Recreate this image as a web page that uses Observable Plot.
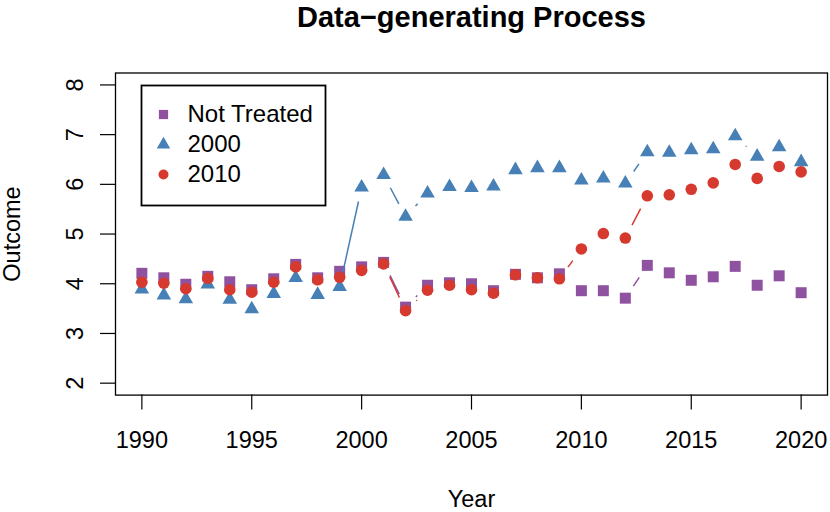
<!DOCTYPE html>
<html><head><meta charset="utf-8">
<script src="https://cdn.jsdelivr.net/npm/d3@7"></script>
<script src="https://cdn.jsdelivr.net/npm/@observablehq/plot@0.6"></script>
<style>body{margin:0;background:#fff}</style>
</head><body><div id="chart"></div>
<script>
const years = [1990,1991,1992,1993,1994,1995,1996,1997,1998,1999,2000,2001,2002,2003,2004,2005,2006,2007,2008,2009,2010,2011,2012,2013,2014,2015,2016,2017,2018,2019,2020];
const notTreated = [4.21,4.12,3.99,4.15,4.04,3.88,4.10,4.39,4.12,4.25,4.34,4.43,3.53,3.97,4.02,4.00,3.86,4.19,4.12,4.20,3.86,3.86,3.71,4.37,4.22,4.07,4.14,4.35,3.97,4.16,3.82];
const treated2000 = [3.89,3.77,3.69,3.99,3.68,3.49,3.80,4.12,3.78,3.94,5.94,6.19,5.35,5.82,5.95,5.93,5.96,6.29,6.33,6.33,6.08,6.12,6.02,6.65,6.64,6.69,6.71,6.97,6.56,6.75,6.45];
const treated2010 = [4.03,4.01,3.90,4.11,3.88,3.83,4.03,4.34,4.08,4.13,4.27,4.40,3.46,3.87,3.97,3.88,3.81,4.18,4.12,4.10,4.70,5.01,4.92,5.77,5.79,5.90,6.03,6.40,6.12,6.36,6.25];
const xTicks = [1990,1995,2000,2005,2010,2015,2020];
const yTicks = [2,3,4,5,6,7,8];
const legendLabels = ["Not Treated","2000","2010"];
const title = "Data\u2212generating Process";
const xLabel = "Year";
const yLabel = "Outcome";

const series = [
  {name: legendLabels[0], values: notTreated, symbol: "square", color: "#8F52A0", r: 6.2, lr: 5.2},
  {name: legendLabels[1], values: treated2000, symbol: "triangle", color: "#4680B6", r: 5.4, lr: 5.0},
  {name: legendLabels[2], values: treated2010, symbol: "circle", color: "#D6392E", r: 5.8, lr: 5.0}
];

const seriesMarks = [];
for (const s of series) {
  const pts = years.map((yr, i) => ({x: yr, y: s.values[i]}));
  const segs = pts.slice(1).map((p, i) => ({x1: pts[i].x, y1: pts[i].y, x2: p.x, y2: p.y}));
  seriesMarks.push(Plot.arrow(segs, {x1: "x1", y1: "y1", x2: "x2", y2: "y2", stroke: s.color, strokeWidth: 1.5,
    headLength: 0, insetStart: 14.5, insetEnd: 14.5, bend: 0, strokeLinecap: "butt"}));
  seriesMarks.push(Plot.dot(pts, {x: "x", y: "y", symbol: s.symbol, fill: s.color, r: s.r, stroke: "none"}));
}

const legendMarks = [
  Plot.frame({insetLeft: 26, insetTop: 12.5, insetRight: 502, insetBottom: 189.6, stroke: "black", strokeWidth: 1.8})
];
series.forEach((s, i) => {
  legendMarks.push(Plot.dot([s.name], {frameAnchor: "top-left", dx: 48, dy: 41.5 + 30 * i, symbol: s.symbol, fill: s.color, r: s.lr, stroke: "none"}));
  legendMarks.push(Plot.text([s.name], {text: d => d, frameAnchor: "top-left", dx: 72, dy: 41.5 + 30 * i, textAnchor: "start", lineAnchor: "middle", fontSize: 24, fill: "black"}));
});

const chart = Plot.plot({
  width: 830, height: 512,
  marginLeft: 115, marginRight: 3, marginTop: 72.5, marginBottom: 117.4,
  x: {domain: [1988.8, 2021.2]},
  y: {domain: [1.76, 8.24]},
  style: {fontSize: "23.5px", fontFamily: "'Liberation Sans', Arial, Helvetica, sans-serif", color: "black", background: "white"},
  marks: [
    Plot.frame({stroke: "black", strokeWidth: 1.3}),
    Plot.axisX({ticks: xTicks, tickFormat: "d", tickSize: 15, tickPadding: 21, label: null, stroke: "black", strokeWidth: 1.2}),
    Plot.axisY({ticks: yTicks, tickSize: 15, tickFormat: () => "", label: null, stroke: "black", strokeWidth: 1.2}),
    Plot.text(yTicks, {y: d => d, text: d => String(d), frameAnchor: "left", dx: -33, rotate: -90, textAnchor: "middle", lineAnchor: "bottom", fill: "black"}),
    Plot.text([xLabel], {text: d => d, frameAnchor: "bottom", dy: 111.5, lineAnchor: "bottom", fill: "black"}),
    Plot.text([yLabel], {text: d => d, frameAnchor: "left", dx: -96, rotate: -90, textAnchor: "middle", lineAnchor: "bottom", fill: "black"}),
    Plot.text([title], {text: d => d, frameAnchor: "top", dy: -46, lineAnchor: "bottom", fontWeight: "bold", fontSize: 29, fill: "black"}),
    ...seriesMarks,
    ...legendMarks
  ]
});
document.getElementById("chart").appendChild(chart);
</script>
</body></html>
